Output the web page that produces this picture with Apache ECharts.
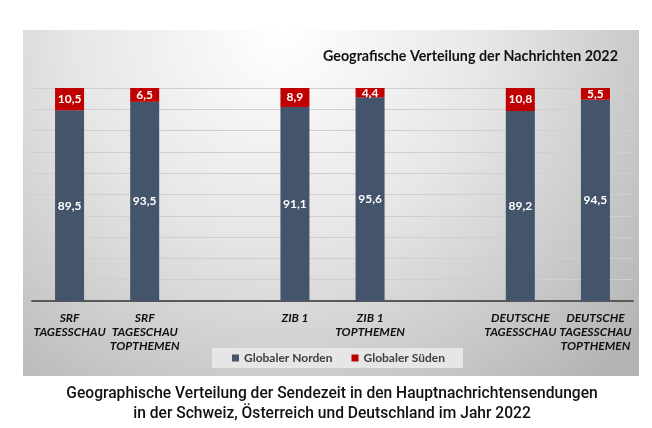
<!DOCTYPE html>
<html><head><meta charset="utf-8">
<script src="https://cdn.jsdelivr.net/npm/echarts@6/dist/echarts.min.js"></script>
<style>html,body{margin:0;padding:0;background:#fff}#c{width:652px;height:428px}</style>
</head><body><div id="c"></div>
<script>
const categories = ['SRF\nTAGESSCHAU', 'SRF\nTAGESCHAU\nTOPTHEMEN', '', 'ZIB 1', 'ZIB 1\nTOPTHEMEN', '', 'DEUTSCHE\nTAGESSCHAU', 'DEUTSCHE\nTAGESSCHAU\nTOPTHEMEN'];
const norden = [89.5, 93.5, '-', 91.1, 95.6, '-', 89.2, 94.5];
const sueden = [10.5, 6.5, '-', 8.9, 4.4, '-', 10.8, 5.5];
const seriesNames = ['Globaler Norden', 'Globaler Süden'];
const chartTitle = 'Geografische Verteilung der Nachrichten 2022';
const caption = 'Geographische Verteilung der Sendezeit in den Hauptnachrichtensendungen\nin der Schweiz, Österreich und Deutschland im Jahr 2022';

const chart = echarts.init(document.getElementById('c'));
const fmt = p => String(p.value).replace('.', ',');
chart.setOption({
  animation: false,
  graphic: [{
    type: 'rect', z: -10, silent: true,
    shape: { x: 23, y: 30, width: 616, height: 346 },
    style: {
      fill: new echarts.graphic.RadialGradient(0.42, 0.0, 1.35, [
        { offset: 0, color: '#ffffff' },
        { offset: 0.45, color: '#e6e6e6' },
        { offset: 1, color: '#b4b4b4' }
      ])
    }
  }],
  title: [{
    text: chartTitle, left: 318, top: 44,
    textStyle: { fontFamily: 'Lato', fontWeight: 'bold', fontSize: 14.3, color: '#111' }
  }, {
    text: caption, left: 327, top: 379, textAlign: 'center',
    textStyle: { fontFamily: 'Roboto', fontWeight: 500, fontSize: 15.6, lineHeight: 20, color: '#111' }
  }],
  legend: {
    data: seriesNames, left: 212, top: 348,
    backgroundColor: '#e6e6e6', padding: [4, 18, 4, 20],
    icon: 'rect', itemWidth: 7, itemHeight: 7, itemGap: 19,
    textStyle: { fontFamily: 'Lato', fontWeight: 'bold', fontSize: 12, color: '#404040' }
  },
  grid: { left: 32, right: 19, top: 88, bottom: 127 },
  xAxis: {
    type: 'category', data: categories,
    axisLine: { lineStyle: { color: '#595959', width: 2 } },
    axisTick: { show: false },
    axisLabel: {
      interval: 0, margin: 10, verticalAlign: 'top', lineHeight: 14,
      fontFamily: 'Lato', fontWeight: 'bold', fontStyle: 'italic', fontSize: 12, color: '#111'
    }
  },
  yAxis: {
    type: 'value', min: 0, max: 100, interval: 10,
    axisLabel: { show: false }, axisLine: { show: false }, axisTick: { show: false },
    splitLine: { lineStyle: { color: '#cfcfcf', width: 1 } }
  },
  series: [{
    name: seriesNames[0], type: 'bar', stack: 's', data: norden, barWidth: 29,
    itemStyle: { color: '#44546a' },
    label: { show: true, position: 'inside', formatter: fmt, color: '#fff',
      fontFamily: 'Lato', fontWeight: 'bold', fontSize: 12 }
  }, {
    name: seriesNames[1], type: 'bar', stack: 's', data: sueden, barWidth: 29,
    itemStyle: { color: '#c00000' },
    label: { show: true, position: 'inside', formatter: fmt, color: '#fff',
      fontFamily: 'Lato', fontWeight: 'bold', fontSize: 12 }
  }]
});
</script></body></html>
